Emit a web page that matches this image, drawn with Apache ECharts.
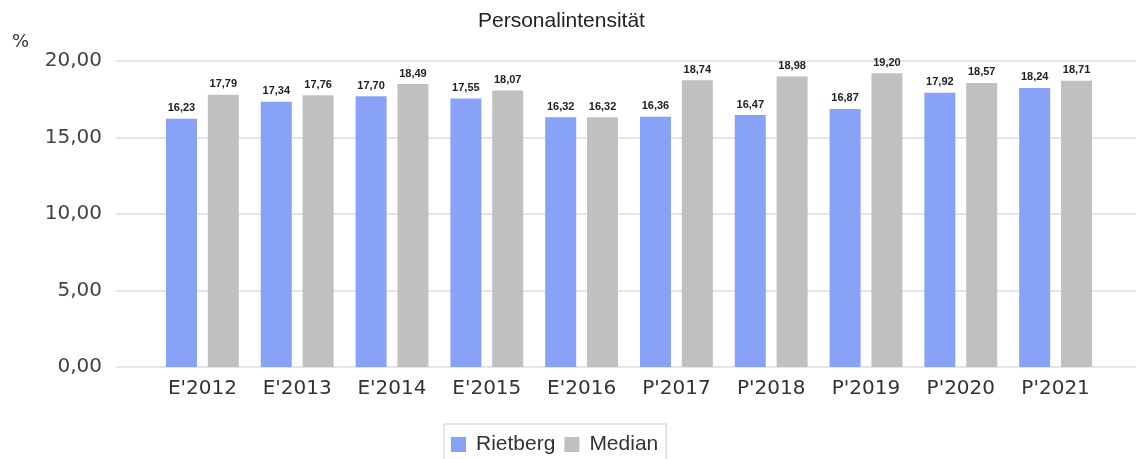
<!DOCTYPE html>
<html>
<head>
<meta charset="utf-8" />
<title>Personalintensität</title>
<style type="text/css">
body,div{margin:0;padding:0;}
#chart{width:1136px;height:459px;background:#fff;}
</style>
<script src="https://cdn.jsdelivr.net/npm/echarts@6/dist/echarts.min.js"></script>
</head>
<body>
<div id="chart"></div>
<script type="text/javascript">
var categories = ["E'2012", "E'2013", "E'2014", "E'2015", "E'2016", "P'2017", "P'2018", "P'2019", "P'2020", "P'2021"];
var rietberg = [16.23, 17.34, 17.70, 17.55, 16.32, 16.36, 16.47, 16.87, 17.92, 18.24];
var median = [17.79, 17.76, 18.49, 18.07, 16.32, 18.74, 18.98, 19.20, 18.57, 18.71];
var yTicks = [0, 5, 10, 15, 20];

function fmt(v) {
    return v.toFixed(2).replace('.', ',');
}

var myChart = echarts.init(document.getElementById('chart'));
var option = {
    animation: false,
    title: {
        text: 'Personalintensität',
        left: 473,
        top: 6,
        textStyle: {fontFamily: 'Liberation Sans', fontSize: 21, fontWeight: 'normal', color: '#222'}
    },
    graphic: [{
        type: 'text', left: 12, top: 33,
        style: {text: '%', font: '18px "DejaVu Sans"', fill: '#333'}
    }],
    legend: {
        top: 424,
        left: 444,
        itemWidth: 15,
        itemHeight: 15,
        itemGap: 9,
        icon: 'rect',
        borderColor: '#ddd',
        borderWidth: 1.5,
        padding: [10, 8, 14, 7],
        textStyle: {fontFamily: 'Liberation Sans', fontSize: 21, color: '#333', padding: [0, 0, 0, 5]},
        data: ['Rietberg', 'Median']
    },
    grid: [
        // background grid: y labels and wide split lines
        {left: 116, right: 0, top: 61, bottom: 92},
        // bars
        {left: 155, right: 33, top: 61, bottom: 92}
    ],
    xAxis: [
        {gridIndex: 0, type: 'category', data: categories, show: false},
        {
            gridIndex: 1, type: 'category', data: categories,
            axisLine: {show: false}, axisTick: {show: false},
            axisLabel: {margin: 12, fontFamily: 'DejaVu Sans', fontSize: 20, color: '#333'}
        }
    ],
    yAxis: [
        {
            gridIndex: 0, type: 'value', min: yTicks[0], max: yTicks[yTicks.length - 1], interval: 5,
            axisLine: {show: false}, axisTick: {show: false},
            axisLabel: {margin: 14, fontFamily: 'DejaVu Sans', fontSize: 20, color: '#444', formatter: fmt},
            splitLine: {lineStyle: {color: '#dcdcdc', width: 1.5}}
        },
        {
            gridIndex: 1, type: 'value', min: yTicks[0], max: yTicks[yTicks.length - 1], interval: 5,
            show: false, splitLine: {show: false}
        }
    ],
    series: [
        {
            name: 'Rietberg', type: 'bar', xAxisIndex: 1, yAxisIndex: 1,
            data: rietberg, barWidth: 31, barGap: '35%',
            itemStyle: {color: '#87a2f7'},
            label: {show: true, position: 'top', distance: 5, formatter: function (p) { return fmt(p.value); },
                fontFamily: 'Liberation Sans', fontSize: 11, fontWeight: 'bold', color: '#222'}
        },
        {
            name: 'Median', type: 'bar', xAxisIndex: 1, yAxisIndex: 1,
            data: median, barWidth: 31, barGap: '35%',
            itemStyle: {color: '#c0c0c0'},
            label: {show: true, position: 'top', distance: 5, formatter: function (p) { return fmt(p.value); },
                fontFamily: 'Liberation Sans', fontSize: 11, fontWeight: 'bold', color: '#222'}
        }
    ]
};
myChart.setOption(option);
</script>
</body>
</html>
